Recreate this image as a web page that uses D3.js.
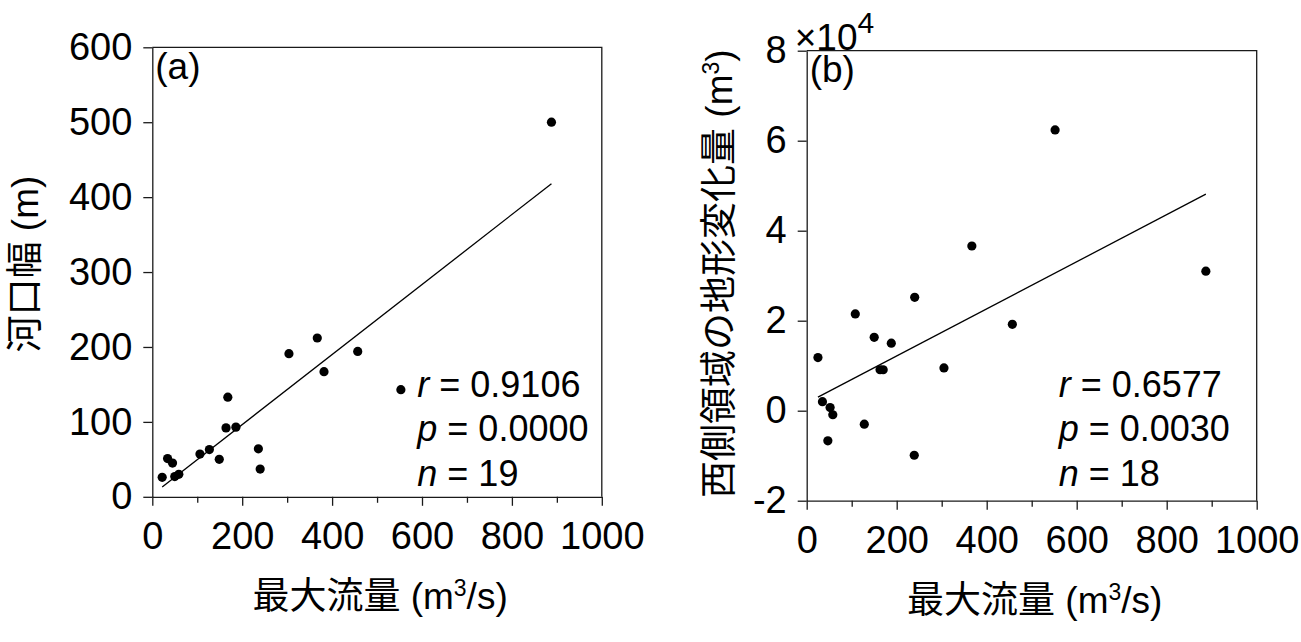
<!DOCTYPE html>
<html>
<head>
<meta charset="utf-8">
<script src="https://cdn.jsdelivr.net/npm/d3@7"></script>
<style>
  body { margin: 0; background: #fff; }
  svg { font-family: "Liberation Sans", Arial, "Noto Sans CJK JP", sans-serif; }
</style>
</head>
<body>
<script>
// (a) 最大流量 vs 河口幅
const flowA  = [888, 367, 304, 457, 382, 553, 168, 164, 186, 236, 240, 127, 106, 149, 34, 45, 22, 50, 59];
const widthA = [500, 212, 191, 194, 167, 143, 133, 92, 93, 64, 37, 63, 57, 50, 51, 45, 26, 27, 30];

// (b) 最大流量 vs 西側領域の地形変化量 (m3)
const flowB   = [552, 367, 887, 240, 108, 457, 150, 188, 25, 163, 170, 305, 35, 52, 58, 128, 47, 239];
const changeB = [62400, 36600, 31000, 25200, 21500, 19200, 16300, 15000, 11800, 9100, 9100, 9500,
                 2000, 700, -900, -3000, -6700, -9900];

const xTicks  = [0, 200, 400, 600, 800, 1000];
const xMinor  = [100, 300, 500, 700, 900];
const yTicksA = [0, 100, 200, 300, 400, 500, 600];
const yTicksB = [-20000, 0, 20000, 40000, 60000, 80000];

const statsA = { r: "0.9106", p: "0.0000", n: "19" };
const statsB = { r: "0.6577", p: "0.0030", n: "18" };

const W = 1301, H = 642;
const ink = "#1a1a1a";

const svg = d3.select("body").append("svg")
  .attr("width", W)
  .attr("height", H);

svg.append("rect").attr("width", W).attr("height", H).attr("fill", "#fff");

// simple least squares fit
function fit(xs, ys) {
  const mx = d3.mean(xs), my = d3.mean(ys);
  let sxy = 0, sxx = 0;
  xs.forEach((x, i) => { sxy += (x - mx) * (ys[i] - my); sxx += (x - mx) * (x - mx); });
  const b = sxy / sxx;
  return { slope: b, intercept: my - b * mx };
}

function drawPanel(o) {
  const g = svg.append("g").attr("transform", `translate(${o.left},${o.top})`);
  const size = o.size;

  const x = d3.scaleLinear().domain([0, 1000]).range([0, size]);
  const y = d3.scaleLinear().domain(o.yDomain).range([size, 0]);

  // minor x ticks
  g.append("g")
    .attr("transform", `translate(0,${size})`)
    .call(d3.axisBottom(x).tickValues(xMinor).tickSize(6).tickFormat(""))
    .call(a => a.select(".domain").remove());

  const xa = g.append("g")
    .attr("transform", `translate(0,${size})`)
    .call(d3.axisBottom(x).tickValues(xTicks).tickSize(9).tickSizeOuter(0).tickPadding(16)
      .tickFormat(d => String(d)));

  const ya = g.append("g")
    .call(d3.axisLeft(y).tickValues(o.yTicks).tickSize(9).tickSizeOuter(0).tickPadding(11)
      .tickFormat(o.yFormat));

  [xa, ya].forEach(a => {
    a.attr("color", ink);
    a.selectAll("path, line").attr("stroke-width", 1.3);
    a.selectAll("text").attr("font-size", 38).attr("fill", "#000")
      .attr("font-family", "'Liberation Sans', Arial, sans-serif");
  });
  g.selectAll(".tick line").attr("stroke", ink).attr("stroke-width", 1.3);

  // top and right frame
  g.append("path")
    .attr("d", `M0,0H${size}V${size}`)
    .attr("fill", "none")
    .attr("stroke", ink)
    .attr("stroke-width", 1.3);

  // regression line over x range
  const f = fit(o.xs, o.ys);
  const [x0, x1] = d3.extent(o.xs);
  g.append("line")
    .attr("x1", x(x0)).attr("y1", y(f.intercept + f.slope * x0))
    .attr("x2", x(x1)).attr("y2", y(f.intercept + f.slope * x1))
    .attr("stroke", "#000")
    .attr("stroke-width", 1.3);

  g.selectAll("circle.pt")
    .data(o.xs.map((v, i) => [v, o.ys[i]]))
    .join("circle")
    .attr("class", "pt")
    .attr("cx", d => x(d[0]))
    .attr("cy", d => y(d[1]))
    .attr("r", 4.6)
    .attr("fill", "#000");

  // panel label
  g.append("text")
    .attr("x", 3).attr("y", o.labelY)
    .attr("font-size", 37)
    .text(o.label);

  // stats
  const rows = [["r", o.stats.r], ["p", o.stats.p], ["n", o.stats.n]];
  const st = g.append("g").attr("transform", `translate(${o.statsX},0)`);
  rows.forEach((r, i) => {
    const t = st.append("text")
      .attr("x", 0)
      .attr("y", o.statsY + i * 44.5)
      .attr("font-size", 36);
    t.append("tspan").attr("font-style", "italic").text(r[0]);
    t.append("tspan").text(" = " + r[1]);
  });

  // x title
  const xt = g.append("text")
    .attr("x", size / 2 + 3)
    .attr("y", size + 112)
    .attr("text-anchor", "middle")
    .attr("font-size", 37);
  xt.append("tspan").text("最大流量 (m");
  xt.append("tspan").attr("font-size", 23).attr("dy", -13).text("3");
  xt.append("tspan").attr("dy", 13).text("/s)");

  // y title
  const yt = g.append("text")
    .attr("transform", `translate(${o.yTitleX},${size / 2 + o.yTitleShift}) rotate(-90)`)
    .attr("text-anchor", "middle")
    .attr("font-size", 37);
  yt.append("tspan").text(o.yTitle);
  if (o.yTitleSup) {
    yt.append("tspan").attr("font-size", 23).attr("dy", -13).text("3");
    yt.append("tspan").attr("dy", 13).text(")");
  }

  return g;
}

drawPanel({
  left: 152.3, top: 47.3, size: 449.5,
  xs: flowA, ys: widthA,
  yDomain: [0, 600], yTicks: yTicksA, yFormat: d => String(d),
  label: "(a)", labelY: 32,
  stats: statsA, statsX: 265, statsY: 349.5,
  yTitle: "河口幅 (m)", yTitleX: -114, yTitleShift: -8, yTitleSup: false
});

const gb = drawPanel({
  left: 806.7, top: 50.7, size: 450,
  xs: flowB, ys: changeB,
  yDomain: [-20000, 80000], yTicks: yTicksB, yFormat: d => String(d / 1e4),
  label: "(b)", labelY: 31,
  stats: statsB, statsX: 252, statsY: 346,
  yTitle: "西側領域の地形変化量 (m", yTitleX: -75, yTitleShift: -2, yTitleSup: true
});

// exponent marker above panel (b)
const ex = gb.append("text")
  .attr("x", -12).attr("y", -1)
  .attr("font-size", 37);
ex.append("tspan").text("×10");
ex.append("tspan").attr("font-size", 30).attr("dy", -17).text("4");
</script>
</body>
</html>
